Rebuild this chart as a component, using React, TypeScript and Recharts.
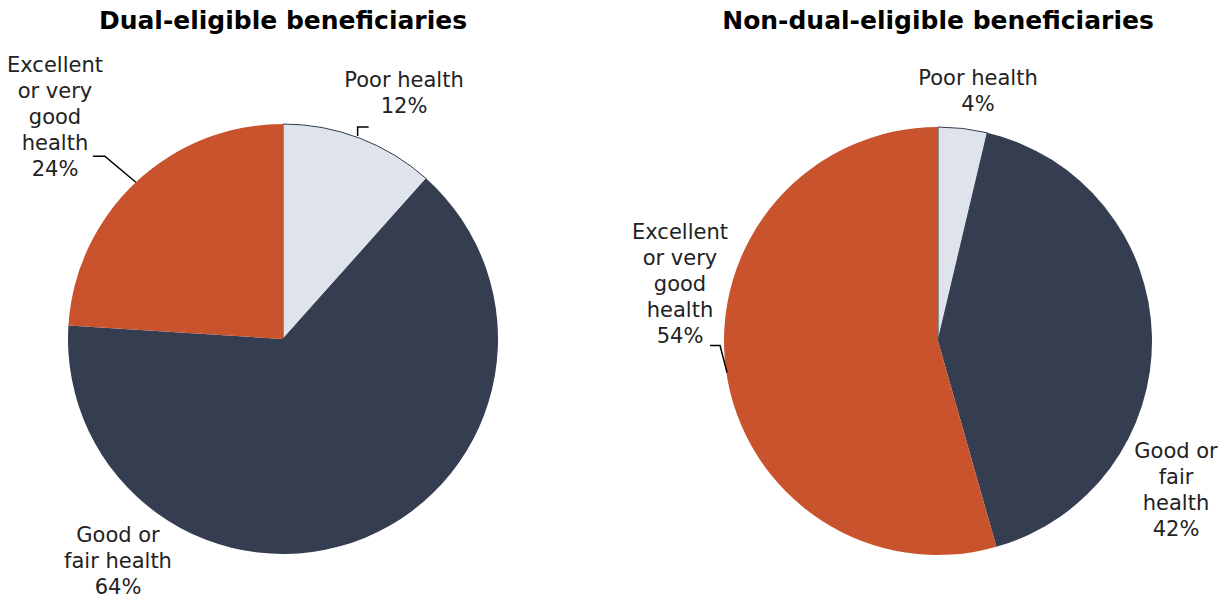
import { PieChart, Pie, Cell } from 'recharts'

// Categorías de estado de salud (orden horario desde las 12 en punto)
const STATUS = ['Poor health', 'Good or fair health', 'Excellent or very good health']
const DUAL_PCT = [11.6, 64.4, 24.0]
const NON_DUAL_PCT = [3.7, 41.9, 54.4]

const TITLES = ['Dual-eligible beneficiaries', 'Non-dual-eligible beneficiaries']

const COLORS = ['#DFE3EB', '#343E50', '#C8532D']
const FONT = '"DejaVu Sans", Verdana, sans-serif'

// Cortes de línea de cada etiqueta, por gráfico
const DUAL_LABEL_LINES = [['Poor health'], ['Good or', 'fair health'], ['Excellent', 'or very', 'good', 'health']]
const NON_DUAL_LABEL_LINES = [['Poor health'], ['Good or', 'fair', 'health'], ['Excellent', 'or very', 'good', 'health']]

// Posición de la etiqueta relativa al centro del pie (dx, dy de la primera línea)
// y, opcionalmente, una línea guía relativa al punto medio del arco.
type LabelLayout = { dx: number; dy: number; leader?: [number, number][] }

const DUAL_LAYOUT: LabelLayout[] = [
  { dx: 121, dy: -259, leader: [[-2, -2], [-2, -11], [9, -11]] },
  { dx: -165, dy: 196 },
  { dx: -228, dy: -274, leader: [[0, 0], [-31, -26], [-43, -26]] },
]
const NON_DUAL_LAYOUT: LabelLayout[] = [
  { dx: 40, dy: -263 },
  { dx: 238, dy: 110 },
  { dx: -258, dy: -109, leader: [[1, 2], [-6, -25], [-16, -25]] },
]

const RADIAN = Math.PI / 180
const LINE_H = 26

function makeLabel(lines: string[][], layout: LabelLayout[]) {
  return (props: any) => {
    const { cx, cy, midAngle, outerRadius, index, value } = props
    const cfg = layout[index]
    const ax = cx + outerRadius * Math.cos(-midAngle * RADIAN)
    const ay = cy + outerRadius * Math.sin(-midAngle * RADIAN)
    const textLines = [...lines[index], `${Math.round(value)}%`]
    const x = cx + cfg.dx
    const y = cy + cfg.dy
    return (
      <g>
        {cfg.leader && (
          <polyline
            points={cfg.leader.map(([px, py]) => `${ax + px},${ay + py}`).join(' ')}
            fill="none"
            stroke="#000"
            strokeWidth={1.5}
          />
        )}
        <text
          x={x}
          y={y}
          textAnchor="middle"
          fontFamily={FONT}
          fontSize={21}
          fill="#222"
        >
          {textLines.map((t, i) => (
            <tspan key={i} x={x} y={y + i * LINE_H} dominantBaseline="central">
              {t}
            </tspan>
          ))}
        </text>
      </g>
    )
  }
}

const dualData = STATUS.map((name, i) => ({ name, value: DUAL_PCT[i] }))
const nonDualData = STATUS.map((name, i) => ({ name, value: NON_DUAL_PCT[i] }))

export default function App() {
  return (
    <div style={{ position: 'absolute', left: 0, top: 0, width: 1228, height: 600, background: '#fff' }}>
      <div
        style={{
          position: 'absolute', left: 0, width: 566, top: 6, textAlign: 'center',
          fontFamily: FONT, fontWeight: 'bold', fontSize: 25, color: '#000',
        }}
      >
        {TITLES[0]}
      </div>
      <div
        style={{
          position: 'absolute', left: 638, width: 600, top: 6, textAlign: 'center',
          fontFamily: FONT, fontWeight: 'bold', fontSize: 25, color: '#000',
        }}
      >
        {TITLES[1]}
      </div>
      <PieChart
        width={1228}
        height={600}
        margin={{ top: 0, right: 0, bottom: 0, left: 0 }}
        style={{ position: 'absolute', left: 0, top: 0 }}
      >
        <Pie
          data={dualData}
          dataKey="value"
          nameKey="name"
          cx={283}
          cy={339}
          outerRadius={215}
          startAngle={90}
          endAngle={-270}
          labelLine={false}
          label={makeLabel(DUAL_LABEL_LINES, DUAL_LAYOUT)}
          isAnimationActive={false}
        >
          {dualData.map((_, i) => (
            <Cell key={i} fill={COLORS[i]} stroke={i === 0 ? '#343E50' : 'none'} strokeWidth={1} />
          ))}
        </Pie>
        <Pie
          data={nonDualData}
          dataKey="value"
          nameKey="name"
          cx={938}
          cy={341}
          outerRadius={214}
          startAngle={90}
          endAngle={-270}
          labelLine={false}
          label={makeLabel(NON_DUAL_LABEL_LINES, NON_DUAL_LAYOUT)}
          isAnimationActive={false}
        >
          {nonDualData.map((_, i) => (
            <Cell key={i} fill={COLORS[i]} stroke={i === 0 ? '#343E50' : 'none'} strokeWidth={1} />
          ))}
        </Pie>
      </PieChart>
    </div>
  )
}
